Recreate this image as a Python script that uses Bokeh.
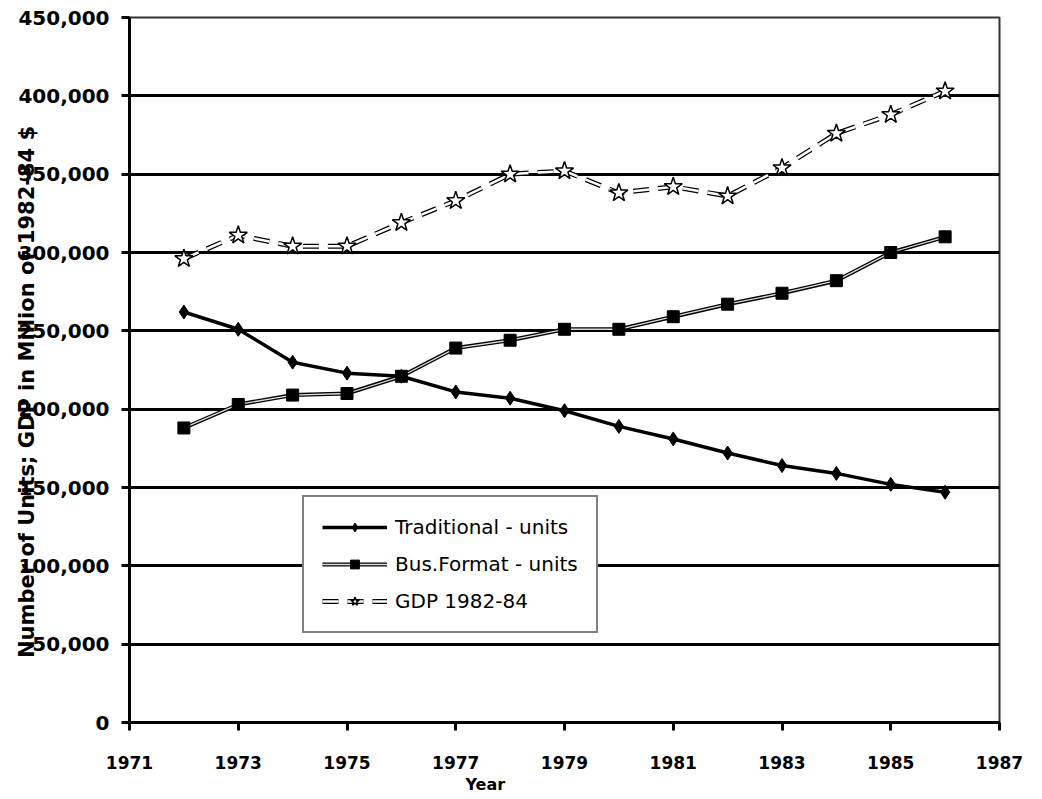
from bokeh.plotting import figure
from bokeh.models import FixedTicker, NumeralTickFormatter, Range1d, Legend, LegendItem, Title
from bokeh.embed import file_html
from bokeh.resources import INLINE

years = [1972, 1973, 1974, 1975, 1976, 1977, 1978, 1979, 1980, 1981, 1982, 1983, 1984, 1985, 1986]
traditional = [262000, 251000, 230000, 223000, 221000, 211000, 207000, 199000, 189000, 181000, 172000, 164000, 159000, 152000, 147000]
bus_format = [188000, 203000, 209000, 210000, 221000, 239000, 244000, 251000, 251000, 259000, 267000, 274000, 282000, 300000, 310000]
gdp = [296000, 311000, 304000, 304000, 319000, 333000, 350000, 352000, 338000, 342000, 336000, 354000, 376000, 388000, 403000]
x_ticks = [1971, 1973, 1975, 1977, 1979, 1981, 1983, 1985, 1987]
y_ticks = [0, 50000, 100000, 150000, 200000, 250000, 300000, 350000, 400000, 450000]
series_names = ["Traditional - units", "Bus.Format - units", "GDP 1982-84"]
y_title = "Number of Units; GDP in Million of 1982-84 $"
x_title = "Year"

p = figure(width=1040, height=797, output_backend="svg", toolbar_location=None,
           x_range=Range1d(1971, 1987), y_range=Range1d(0, 450000),
           min_border_left=129, min_border_right=41, min_border_top=17, min_border_bottom=75)
p.background_fill_color = "white"
p.border_fill_color = "white"
p.outline_line_color = "#333333"
p.outline_line_width = 2

p.xgrid.visible = False
p.ygrid.grid_line_color = "black"
p.ygrid.grid_line_width = 3
p.ygrid.ticker = FixedTicker(ticks=y_ticks)

p.xaxis.ticker = FixedTicker(ticks=x_ticks)
p.yaxis.ticker = FixedTicker(ticks=y_ticks)
p.yaxis.formatter = NumeralTickFormatter(format="0,0")
for ax in (p.xaxis, p.yaxis):
    ax.axis_line_color = "black"
    ax.axis_line_width = 3
    ax.major_tick_line_color = "black"
    ax.major_tick_line_width = 3
    ax.major_tick_out = 8
    ax.major_tick_in = 0
    ax.minor_tick_line_color = None
    ax.major_label_text_font = "DejaVu Sans"
    ax.major_label_text_font_style = "bold"
    ax.major_label_text_color = "black"
p.yaxis.major_label_text_font_size = "20px"
p.yaxis.major_label_standoff = 12
p.xaxis.major_label_text_font_size = "17px"
p.xaxis.major_label_standoff = 25

# trailing no-break spaces only shift the centred title toward the bottom, as in the reference
p.yaxis.axis_label = y_title + "\u00a0" * 6
p.yaxis.axis_label_text_font = "DejaVu Sans"
p.yaxis.axis_label_text_font_style = "bold"
p.yaxis.axis_label_text_font_size = "21px"
p.yaxis.axis_label_text_color = "black"
p.yaxis.axis_label_standoff = -24

# Traditional
t_line = p.line(years, traditional, line_color="black", line_width=3.5)
t_mark = p.scatter(years, traditional, marker="diamond", size=14, fill_color="black", line_color="black")

# Bus format
b_line = p.line(years, bus_format, line_color="black", line_width=4)
b_inner = p.line(years, bus_format, line_color="#dddddd", line_width=1.3)
b_mark = p.scatter(years, bus_format, marker="square", size=12, fill_color="black", line_color="black")

# GDP
g_line = p.line(years, gdp, line_color="black", line_width=5, line_dash="16 9")
g_inner = p.line(years, gdp, line_color="white", line_width=2.5, line_dash="16 9")
g_mark = p.scatter(years, gdp, marker="star", size=19, fill_color="white", line_color="black", line_width=1.5)

legend = Legend(items=[
    LegendItem(label=series_names[0], renderers=[t_line, t_mark]),
    LegendItem(label=series_names[1], renderers=[b_line, b_inner, b_mark]),
    LegendItem(label=series_names[2], renderers=[g_line, g_inner, g_mark]),
], location=(173, 89))
legend.label_text_font = "DejaVu Sans"
legend.label_text_font_size = "20px"
legend.label_text_color = "black"
legend.glyph_width = 65
legend.glyph_height = 22
legend.label_height = 22
legend.spacing = 13
legend.padding = 18
legend.margin = 0
legend.label_standoff = 8
legend.border_line_color = "black"
legend.border_line_width = 2
legend.background_fill_color = "white"
legend.background_fill_alpha = 1.0
p.add_layout(legend)

p.add_layout(Title(text=x_title, align="left", offset=336, standoff=2,
                   text_font="DejaVu Sans", text_font_style="bold", text_font_size="16px",
                   text_color="black"), "below")

open("out.html", "w").write(file_html(p, INLINE))
